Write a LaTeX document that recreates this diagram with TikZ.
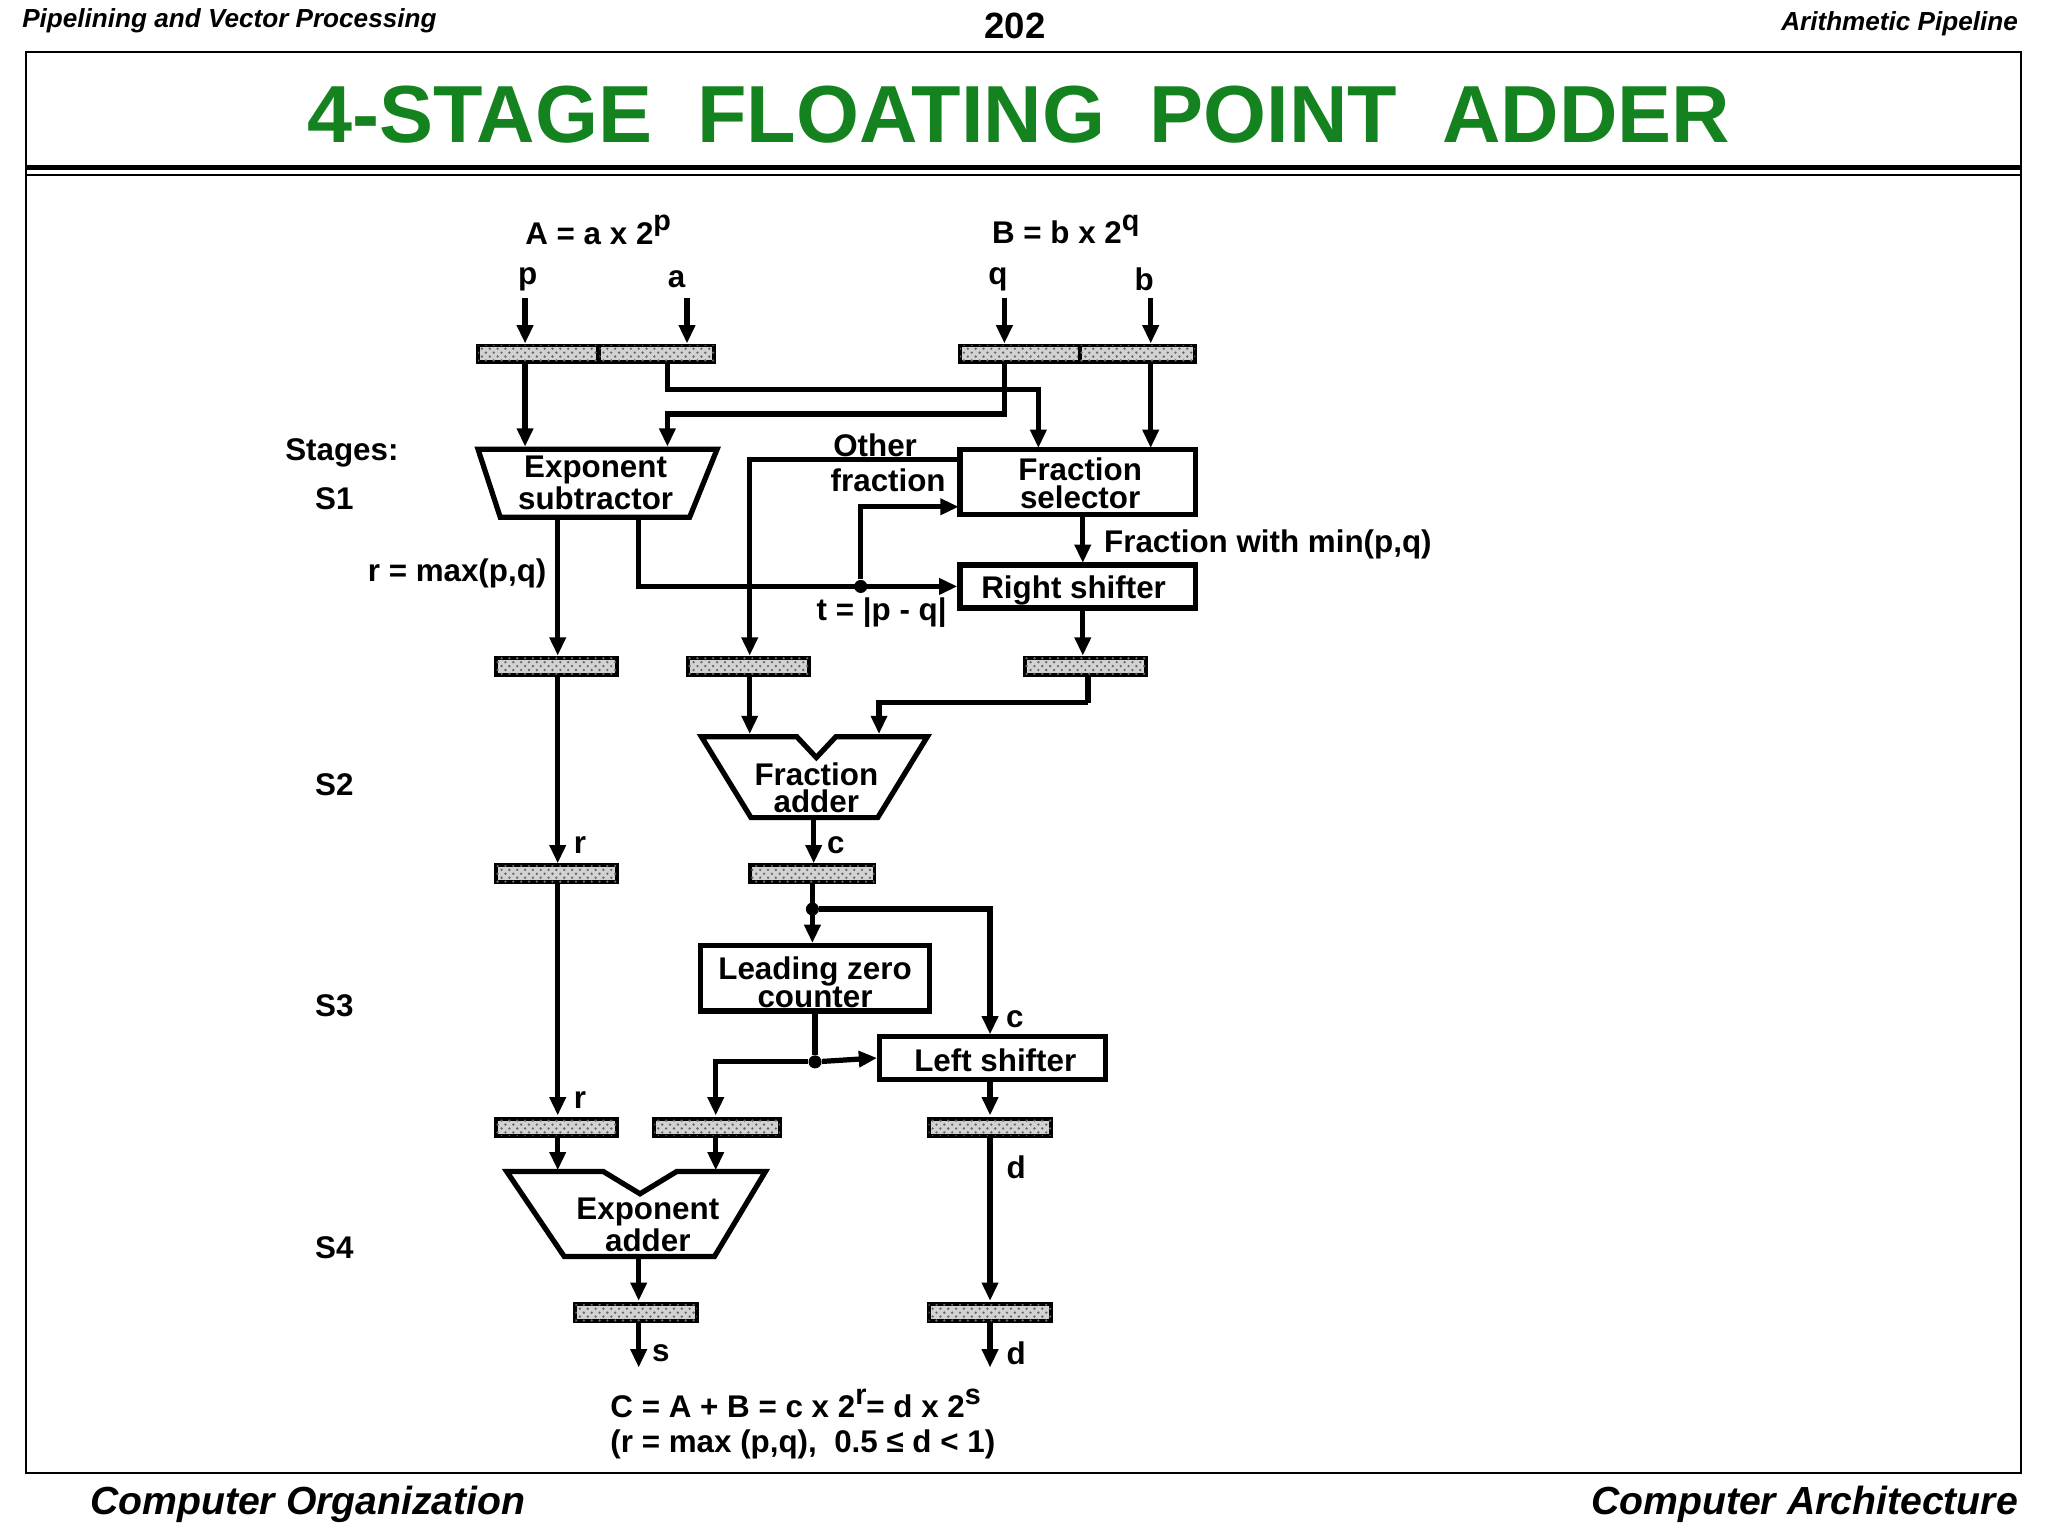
\documentclass[tikz,border=0pt]{standalone}
\usepackage{fontspec}
\setmainfont{Liberation Sans}
\usetikzlibrary{arrows.meta,patterns}
\newcommand{\supx}[1]{\raisebox{5pt}{\fontsize{11}{11}\selectfont #1}}
\begin{document}
\begin{tikzpicture}[x=0.5pt,y=-0.5pt,
  wire/.style={line width=2pt,-{Triangle[length=7pt,width=6pt]}},
  ln/.style={line width=2pt},
  reg/.style={draw,line width=1.5pt,fill=gray!35,postaction={pattern=crosshatch dots,pattern color=gray!80!black},inner sep=0pt,minimum height=6.5pt},
  blk/.style={draw,line width=2pt,inner sep=0pt},
  txt/.style={font=\fontsize{12}{10.5}\selectfont\bfseries,align=center,inner sep=0pt},
  dot/.style={circle,fill,inner sep=0pt,minimum size=5pt}]
\useasboundingbox (0,0) rectangle (1568,1176);
% header
\node[anchor=west,font=\fontsize{10}{10}\selectfont\bfseries\itshape] (h1) at (10,16) {Pipelining and Vector Processing};
\node[font=\fontsize{14}{14}\selectfont\bfseries] (h2) at (777,20) {202};
\node[anchor=east,font=\fontsize{10}{10}\selectfont\bfseries\itshape] (h3) at (1552,18) {Arithmetic Pipeline};
\draw[line width=0.7pt] (20,40) rectangle (1547,1128);
\draw[line width=2pt] (20,128) -- (1547,128);
\draw[line width=0.8pt] (20,134) -- (1547,134);
\node[font=\fontsize{31}{31}\selectfont\bfseries,text={rgb,255:red,20;green,130;blue,30}] (title) at (780,88) {4-STAGE\ \ FLOATING\ \ POINT\ \ ADDER};
\node[anchor=west,font=\fontsize{15}{15}\selectfont\bfseries\itshape] (f1) at (62,1152) {Computer Organization};
\node[anchor=east,font=\fontsize{15}{15}\selectfont\bfseries\itshape] (f2) at (1552,1152) {Computer Architecture};
% inputs
\node[txt] (A) at (458,176) {A = a x 2\supx{p}};
\node[txt] (B) at (816,176) {B = b x 2\supx{q}};
\node[txt] (lp) at (404,214) {p};
\node[txt] (la) at (518,214) {a};
\node[txt] (lq) at (764,214) {q};
\node[txt] (lb) at (876,214) {b};
\coordinate (ip) at (402,228); \coordinate (ia) at (526,228);
\coordinate (iq) at (769,228); \coordinate (ib) at (881,228);
% stage1 registers
\node[reg,minimum width=46pt] (r1p) at (412,271) {};
\node[reg,minimum width=44pt] (r1a) at (503,271) {};
\node[reg,minimum width=46pt] (r1q) at (781,271) {};
\node[reg,minimum width=44pt] (r1b) at (871,271) {};
\draw[wire] (ip) -- (402,263);
\draw[wire] (ia) -- (526,263);
\draw[wire] (iq) -- (769,263);
\draw[wire] (ib) -- (881,263);
% blocks stage1
\draw[blk] (366,344) -- (549,344) -- (528,396) -- (383,396) -- cycle;
\node[txt] (est) at (456,370) {Exponent\\subtractor};
\node[blk,minimum width=90pt,minimum height=25pt] (fs) at (825,369) {};
\node[txt] at (827,370) {Fraction\\selector};
\node[blk,minimum width=90pt,minimum height=16.5pt] (rs) at (825,449) {};
\node[txt] at (822,452) {Right shifter};
\draw[wire] (r1p.south -| 402,0) -- (402,342);
\draw[wire] (r1a.south -| 511,0) -- (511,298) -- (795,298) -- (795,343);
\draw[wire] (r1q.south -| 769,0) -- (769,317) -- (511,317) -- (511,342);
\draw[wire] (r1b.south -| 881,0) -- (881,343);
\node[txt,anchor=west] (stg) at (218,347) {Stages:};
\node[txt] (s1) at (256,382) {S1};
\node[txt] (s2) at (256,601) {S2};
\node[txt] (s3) at (256,770) {S3};
\node[txt] (s4) at (256,955) {S4};
\node[txt] (of1) at (670,341) {Other};
\node[txt] (of2) at (680,368) {fraction};
\node[txt,anchor=west] (fmin) at (845,417) {Fraction with min(p,q)};
\node[txt] (rmax) at (350,439) {r = max(p,q)};
\node[txt] (tpq) at (675,469) {t = |p - q|};
% stage1 regs out
\node[reg,minimum width=46.5pt] (r2r) at (426,510) {};
\node[reg,minimum width=46.5pt] (r2o) at (573,510) {};
\node[reg,minimum width=46.5pt] (r2s) at (831,510) {};
\draw[wire] (427,396) -- (427,502);
\draw[ln] (489,396) -- (489,449) -- (659,449);
\draw[wire] (659,449) -- (rs.west);
\node[dot] (d1) at (659,449) {};
\draw[wire] (d1) -- (659,388) -- (734,388);
\draw[wire] (fs.west |- 0,352) -- (574,352) -- (574,502);
\draw[wire] (829,394) -- (829,431);
\draw[wire] (829,465) -- (829,502);
% stage 2
\draw[blk] (537,564) -- (610,564) -- (625,580) -- (640,564) -- (710,564) -- (672,626) -- (575,626) -- cycle;
\node[txt] (fa) at (625,603) {Fraction\\adder};
\draw[wire] (574,517) -- (574,562);
\draw[ln] (833,517) -- (833,538);
\draw[wire] (833,538) -- (673,538) -- (673,562);
\node[reg,minimum width=46.5pt] (r3r) at (426,669) {};
\node[reg,minimum width=47.5pt] (r3c) at (622,669) {};
\draw[wire] (427,517) -- (427,661);
\draw[wire] (623,626) -- (623,661);
\node[txt] (lr1) at (444,647) {r};
\node[txt] (lc1) at (640,647) {c};
% stage 3
\node[blk,minimum width=87.5pt,minimum height=25pt] (lz) at (624,749) {};
\node[txt] at (624,752) {Leading zero\\counter};
\node[blk,minimum width=86.5pt,minimum height=16.5pt] (ls) at (760,810) {};
\node[txt] at (762,812) {Left shifter};
\node[dot] (d2) at (622,696) {};
\draw[wire] (622,677) -- (622,722);
\draw[wire] (d2) -- (758,696) -- (758,792);
\node[txt] (lc2) at (777,780) {c};
\node[dot] (d3) at (624,813) {};
\draw[ln] (624,774) -- (d3);
\draw[wire] (d3) -- (ls.west);
\draw[wire] (d3) -- (548,813) -- (548,854);
\node[reg,minimum width=46.5pt] (r4r) at (426,863) {};
\node[reg,minimum width=48pt] (r4e) at (549,863) {};
\node[reg,minimum width=47pt] (r4d) at (758,863) {};
\draw[wire] (427,677) -- (427,854);
\draw[wire] (758,827) -- (758,854);
\node[txt] (lr2) at (444,842) {r};
% stage 4
\draw[blk] (388,897) -- (462,897) -- (490,914) -- (518,897) -- (586,897) -- (547,962) -- (432,962) -- cycle;
\node[txt] (ea) at (496,938) {Exponent\\adder};
\draw[wire] (427,870) -- (427,896);
\draw[wire] (548,870) -- (548,896);
\node[reg,minimum width=46.5pt] (r5s) at (487,1005) {};
\node[reg,minimum width=47pt] (r5d) at (758,1005) {};
\draw[wire] (489,962) -- (489,996);
\draw[wire] (758,870) -- (758,996);
\node[txt] (ld1) at (778,894) {d};
\coordinate (os) at (489,1047); \coordinate (od) at (758,1047);
\draw[wire] (489,1012) -- (os);
\draw[wire] (758,1012) -- (od);
\node[txt] (ls2) at (506,1036) {s};
\node[txt] (ld2) at (778,1036) {d};
\node[txt,align=left,anchor=north west] (form) at (467,1063) {C = A + B = c x 2\supx{r}= d x 2\supx{s}\\[3pt](r = max (p,q),\ \ 0.5 ≤ d < 1)};
\end{tikzpicture}
\end{document}
